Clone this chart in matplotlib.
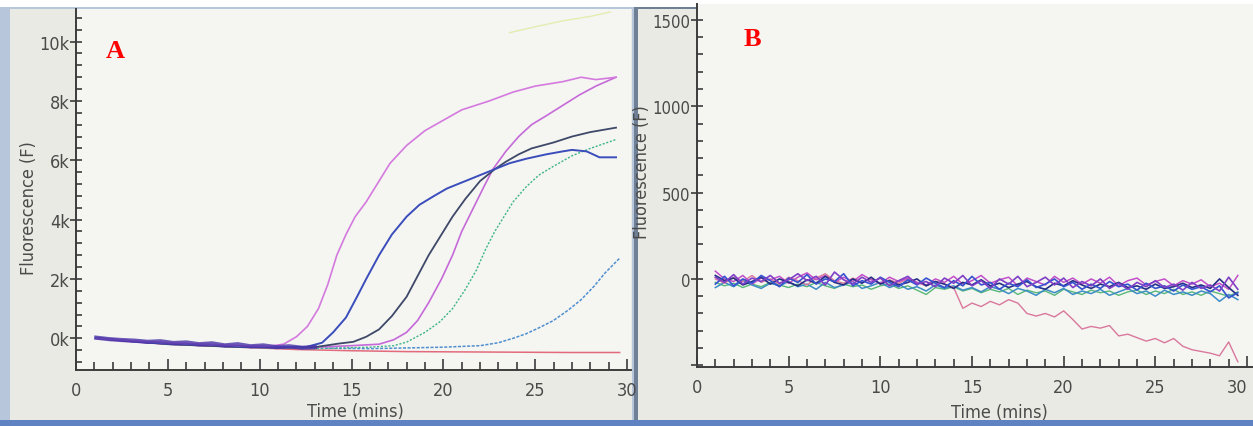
import numpy as np
import matplotlib
matplotlib.use("Agg")
import matplotlib.pyplot as plt
from matplotlib.patches import Rectangle
from matplotlib.ticker import MultipleLocator, FuncFormatter

plt.rcParams["font.family"] = ["DejaVu Sans"]
plt.rcParams["font.stretch"] = "condensed"

# ---------------- Panel A: amplification curves (F in thousands) ----------------
pink_t = [1.1, 3, 5, 7, 9, 10.5, 11.3, 12.0, 12.6, 13.2, 13.7, 14.2, 14.7, 15.2, 15.8,
          16.5, 17.1, 18.0, 19.0, 20.0, 21.0, 22.5, 23.8, 25.0, 26.5, 27.5, 28.3, 29.4]
pink_f = [0.0, -0.08, -0.15, -0.2, -0.25, -0.27, -0.2, 0.05, 0.4, 1.0, 1.8, 2.8, 3.5, 4.1, 4.6,
          5.3, 5.9, 6.5, 7.0, 7.35, 7.7, 8.0, 8.3, 8.5, 8.65, 8.8, 8.72, 8.8]

blue_t = [1.1, 3, 5, 7, 9, 11, 12.5, 13.4, 14.0, 14.7, 15.3, 15.8, 16.5, 17.2, 18.0, 18.7,
          19.5, 20.2, 21.0, 22.0, 23.0, 23.6, 24.5, 25.6, 26.5, 27.0, 27.8, 28.5, 29.4]
blue_f = [0.02, -0.1, -0.18, -0.22, -0.28, -0.3, -0.3, -0.15, 0.2, 0.7, 1.4, 2.0, 2.8, 3.5, 4.1, 4.5,
          4.8, 5.05, 5.25, 5.5, 5.75, 5.9, 6.05, 6.2, 6.3, 6.35, 6.3, 6.1, 6.1]

dark_t = [1.1, 3, 5, 7, 9, 11, 13, 14.3, 15.1, 15.8, 16.5, 17.2, 18.0, 18.6, 19.2, 19.8,
          20.5, 21.2, 22.0, 22.8, 23.4, 24.1, 24.8, 26.0, 27.0, 28.0, 29.4]
dark_f = [0.0, -0.1, -0.2, -0.25, -0.3, -0.32, -0.3, -0.18, -0.12, 0.05, 0.3, 0.75, 1.4, 2.1, 2.8, 3.4,
          4.1, 4.7, 5.3, 5.7, 5.95, 6.2, 6.4, 6.6, 6.8, 6.95, 7.1]

mag_t = [1.1, 3, 5, 7, 9, 11, 13, 15, 16.5, 17.3, 18.0, 18.6, 19.2, 19.9, 20.5, 21.0,
         21.6, 22.2, 22.7, 23.4, 24.1, 24.8, 25.6, 26.5, 27.4, 28.3, 29.4]
mag_f = [0.0, -0.12, -0.2, -0.25, -0.3, -0.32, -0.3, -0.25, -0.2, -0.05, 0.2, 0.6, 1.2, 2.0, 2.8, 3.6,
         4.35, 5.1, 5.7, 6.3, 6.8, 7.2, 7.5, 7.85, 8.2, 8.5, 8.8]

green_t = [1.1, 5, 9, 13, 16, 17.3, 18.0, 19.0, 19.8, 20.5, 21.2, 21.8, 22.3, 22.8, 23.3,
           23.8, 24.5, 25.2, 26.0, 27.0, 28.0, 29.4]
green_f = [0.0, -0.2, -0.3, -0.35, -0.3, -0.25, -0.13, 0.2, 0.55, 1.0, 1.65, 2.3, 3.0, 3.6, 4.1,
           4.6, 5.1, 5.5, 5.8, 6.15, 6.4, 6.7]

lblue_t = [1.1, 5, 9, 13, 16, 18.5, 20, 22, 23.0, 23.8, 24.5, 25.2, 26.0, 26.8, 27.5, 28.2, 28.8, 29.6]
lblue_f = [0.0, -0.2, -0.3, -0.33, -0.35, -0.32, -0.3, -0.25, -0.15, 0.0, 0.15, 0.35, 0.6, 0.95,
           1.3, 1.75, 2.2, 2.7]

red_t = [1.1, 5, 9, 12.0, 15, 18, 21, 24, 27, 29.6]
red_f = [0.0, -0.2, -0.3, -0.38, -0.42, -0.45, -0.46, -0.47, -0.48, -0.48]

# early baseline noise, drawn thick where all wells overlap
base_t = [1.1, 1.8, 2.5, 3.2, 3.9, 4.6, 5.3, 6.0, 6.7, 7.4, 8.1, 8.8, 9.5, 10.2, 10.9, 11.6, 12.3, 13.0]
base_f = [0.02, -0.03, -0.06, -0.08, -0.12, -0.1, -0.16, -0.14, -0.2, -0.17, -0.24, -0.2, -0.27,
          -0.24, -0.3, -0.27, -0.32, -0.3]

faint_t = [23.6, 25.0, 26.5, 28.0, 29.1]
faint_f = [10.3, 10.5, 10.7, 10.85, 11.0]

time_ticks = [0, 5, 10, 15, 20, 25, 30]

# ---------------- Panel B: no-template controls (F) ----------------
b_t = [1.0 + 0.5 * i for i in range(58)]
b_purple = [10, -20, 25, -30, 5, -15, 20, -25, -5, 30, -10, 15, -35, 40, -5, -30, 10, -20, 5, -40,
            -10, 15, -30, -15, -45, 5, -25, 20, -40, -10, -55, 0, -30, 15, -45, -20, 10, -35, 5, -50,
            -15, -40, 0, -55, -25, -60, -20, -45, -10, -50, -30, -65, -20, -55, -35, -70, 10, -60]
b_blue = [-30, 15, -40, 0, -25, 20, -10, -45, 5, -20, 25, -30, 0, -15, 30, -40, -10, -30, 10, -20,
          -45, -5, -35, 5, -25, -50, -10, -40, 15, -35, -20, -60, -25, -45, -5, -50, -30, 0, -45, -20,
          -60, -30, -55, -15, -45, -30, -65, -25, -55, -40, -70, -35, -60, -45, -75, -40, -110, -80]
b_navy = [20, -10, 5, -35, -15, 10, -30, 0, -20, -40, -5, -25, 15, -20, -35, 0, -25, 10, -30, -10,
          -35, -20, 0, -40, -15, -30, -55, -20, -35, -5, -40, -25, -50, -30, -15, -45, -60, -25, -40, -10,
          -35, -55, -30, -45, -20, -50, -40, -60, -30, -55, -45, -25, -50, -35, -55, 0, -50, -95]
b_magenta = [45, 0, -15, 20, -30, 5, -5, 15, -25, 10, 35, -5, 20, -20, 10, -15, 25, -5, -25, 10,
             -15, 5, -20, -35, 0, -20, 15, -30, -10, 20, -25, -5, 10, -40, 5, -15, -35, 15, -20, 5,
             -30, 0, -25, 10, -40, -10, 5, -35, -15, 0, -40, -10, -30, -5, -45, -25, -60, 20]
b_teal = [-50, -20, -45, -10, -35, -55, -25, -40, -15, -45, -30, -60, -20, -50, -35, -15, -55, -40, -20, -50,
          -30, -60, -45, -70, -35, -55, -40, -65, -50, -75, -45, -60, -85, -55, -70, -95, -60, -80, -55, -90,
          -70, -85, -60, -95, -75, -55, -85, -70, -100, -65, -90, -75, -95, -70, -85, -130, -90, -120]
b_green = [-20, -40, -25, -50, -30, -45, -20, -35, -50, -30, -45, -20, -40, -55, -30, -45, -35, -60, -40, -30,
           -55, -40, -65, -90, -50, -60, -45, -70, -55, -80, -60, -75, -55, -90, -65, -80, -70, -95, -60, -75,
           -90, -65, -80, -70, -95, -75, -65, -90, -70, -85, -60, -90, -75, -95, -70, -85, -100, -75]
b_pink = [0, -25, 10, -15, 20, -20, 0, -30, 10, -10, -35, 5, 30, -10, -25, 5, -20, 0, -30, -5,
          -25, 0, -20, -40, -15, -30, -50, -170, -140, -160, -130, -150, -120, -140, -200, -215, -200, -220, -185, -235,
          -290, -275, -285, -270, -330, -320, -340, -360, -345, -370, -345, -390, -410, -420, -430, -445, -365, -480]

W, H = 1253, 427
fig = plt.figure(figsize=(W / 100, H / 100), dpi=100)
fig.patch.set_facecolor("white")


def px_rect(x0, y0, x1, y1, **kw):
    # rectangle given in pixel coords measured from top-left
    r = Rectangle((x0 / W, 1 - y1 / H), (x1 - x0) / W, (y1 - y0) / H,
                  transform=fig.transFigure, zorder=-10, **kw)
    fig.patches.append(r)


# photo frame: two screens
px_rect(0, 8, 634, 427, facecolor="#b7c6da", edgecolor="none")
px_rect(10, 10, 632, 421, facecolor="#e9eae3", edgecolor="none")
px_rect(0, 421, 634, 427, facecolor="#5f82c2", edgecolor="none")
px_rect(634, 8, 1253, 427, facecolor="#6f7f95", edgecolor="none")
px_rect(638, 10, 1253, 421, facecolor="#e9eae3", edgecolor="none")
px_rect(634, 421, 1253, 427, facecolor="#5f82c2", edgecolor="none")

TXT = "#4a4a4a"


def style_axes(ax, major_y, minor_y, ylabelsize=13):
    ax.set_facecolor("#f5f5f2")
    for s in ["top", "right"]:
        ax.spines[s].set_visible(False)
    for s in ["left", "bottom"]:
        ax.spines[s].set_color("#3c3c3c")
        ax.spines[s].set_linewidth(1.4)
    ax.set_xticks(time_ticks, [str(t) for t in time_ticks])
    ax.xaxis.set_minor_locator(MultipleLocator(1))
    ax.yaxis.set_major_locator(MultipleLocator(major_y))
    ax.yaxis.set_minor_locator(MultipleLocator(minor_y))
    ax.tick_params(axis="x", which="major", direction="in", length=8, width=1.2,
                   color="#3c3c3c", labelsize=13, labelcolor=TXT, pad=8)
    ax.tick_params(axis="x", which="minor", direction="in", length=6, width=1.2, color="#3c3c3c")
    ax.tick_params(axis="y", which="major", direction="inout", length=9, width=1.2,
                   color="#3c3c3c", labelsize=ylabelsize, labelcolor=TXT, pad=0)
    ax.tick_params(axis="y", which="minor", direction="in", length=4, width=1.2, color="#3c3c3c")


# ---------------- Panel A ----------------
axA = fig.add_axes([76 / W, 56 / H, 554.7 / W, 361 / H])
style_axes(axA, 2, 0.4)
axA.set_xlim(0, 30.2)
axA.set_ylim(-1.07, 11.1)
axA.yaxis.set_major_formatter(FuncFormatter(lambda v, p: f"{v:.0f}k" if v >= -0.01 else ""))

axA.plot(faint_t, faint_f, color="#e4ecb0", lw=1.0)
axA.plot(red_t, red_f, color="#e36a7c", lw=1.1)
axA.plot(lblue_t, lblue_f, color="#4f8fd0", lw=1.1, ls=(0, (2, 1)))
axA.plot(green_t, green_f, color="#3db48c", lw=1.0, ls=(0, (1.5, 1.2)))
axA.plot(mag_t, mag_f, color="#c56ad8", lw=1.2)
axA.plot(dark_t, dark_f, color="#3e4868", lw=1.3)
axA.plot(blue_t, blue_f, color="#3a4dbb", lw=1.4)
axA.plot(pink_t, pink_f, color="#d47ade", lw=1.2)
axA.plot(base_t, base_f, color="#4a34a8", lw=3.0, alpha=0.8)

axA.set_xlabel("Time (mins)", fontsize=13, color=TXT)
axA.xaxis.set_label_coords(0.503, -0.09)
axA.set_ylabel("Fluorescence (F)", fontsize=13, color=TXT)
axA.yaxis.set_label_coords(-0.069, 0.45)
fig.text(115 / W, 1 - 52 / H, "A", color="#ff0000", fontsize=19, fontweight="bold",
         family="Liberation Serif", ha="center", va="center")

# ---------------- Panel B ----------------
axB = fig.add_axes([697 / W, 59 / H, 555.5 / W, 363 / H])
style_axes(axB, 500, 100, ylabelsize=12)
axB.set_xlim(0, 30.3)
axB.set_ylim(-510, 1592)
axB.yaxis.set_major_formatter(FuncFormatter(lambda v, p: f"{v:.0f}" if v >= 0 else ""))
# keep the last "30" inside the photo edge
axB.get_xticklabels()[-1].set_horizontalalignment("right")

axB.plot(b_t, b_green, color="#58b878", lw=1.0)
axB.plot(b_t, b_teal, color="#3c8cc6", lw=1.1)
axB.plot(b_t, b_pink, color="#d9789c", lw=1.0)
axB.plot(b_t, b_magenta, color="#c24fc8", lw=1.1)
axB.plot(b_t, b_navy, color="#252f86", lw=1.2)
axB.plot(b_t, b_blue, color="#3552d0", lw=1.2)
axB.plot(b_t, b_purple, color="#7f3fc6", lw=1.2)

axB.set_xlabel("Time (mins)", fontsize=13, color=TXT)
axB.xaxis.set_label_coords(0.545, -0.1)
axB.set_ylabel("Fluorescence (F)", fontsize=13, color=TXT)
axB.yaxis.set_label_coords(-0.082, 0.54)
fig.text(752 / W, 1 - 40 / H, "B", color="#ff0000", fontsize=19, fontweight="bold",
         family="Liberation Serif", ha="center", va="center")

fig.savefig("out.png", dpi=100, facecolor=fig.get_facecolor())
